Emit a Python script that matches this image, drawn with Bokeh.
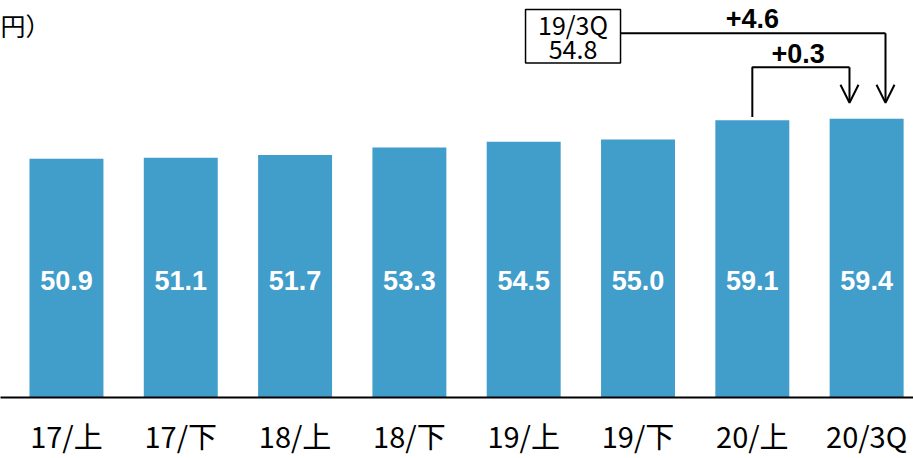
from bokeh.plotting import figure
from bokeh.models import (ColumnDataSource, Range1d, FixedTicker, Arrow, OpenHead,
                          Label)
from bokeh.embed import file_html
from bokeh.resources import INLINE
from bokeh.core.properties import value

# --- data -------------------------------------------------------------
CATEGORIES = ["17/上", "17/下", "18/上", "18/下", "19/上", "19/下", "20/上", "20/3Q"]
VALUES = [50.9, 51.1, 51.7, 53.3, 54.5, 55.0, 59.1, 59.4]
PREV_LABEL = "19/3Q"
PREV_VALUE = 54.8
UNIT = "円）"

BAR_COLOR = "#419DC9"
LABEL_Y = 25.0

xs = list(range(len(VALUES)))
src = ColumnDataSource(dict(
    x=xs,
    top=VALUES,
    label=[f"{v:.1f}" for v in VALUES],
    ly=[LABEL_Y] * len(VALUES),
))

p = figure(width=913, height=458, output_backend="svg", toolbar_location=None,
           x_range=Range1d(-0.577, 7.41), y_range=Range1d(0, 84.6),
           min_border_left=0, min_border_right=0, min_border_top=0,
           min_border_bottom=59)
p.outline_line_color = None
p.xgrid.visible = False
p.ygrid.visible = False
p.yaxis.visible = False
p.background_fill_color = "white"
p.border_fill_color = "white"

p.vbar(x="x", top="top", bottom=0, width=0.647, source=src,
       fill_color=BAR_COLOR, line_color=None)

p.text(x="x", y="ly", text="label", source=src, text_align="center",
       text_baseline="middle", text_color="white", text_font_style="bold",
       text_font=value("Liberation Sans"), text_font_size="27px")

ax = p.xaxis[0]
ax.ticker = FixedTicker(ticks=xs)
ax.major_label_overrides = {i: c for i, c in zip(xs, CATEGORIES)}
ax.major_tick_line_color = None
ax.minor_tick_line_color = None
ax.axis_line_color = "black"
ax.axis_line_width = 2
ax.major_label_text_font = "Noto Sans CJK JP"
ax.major_label_text_font_size = "29px"
ax.major_label_text_color = "black"
ax.major_label_standoff = 10

# unit label, top-left
p.add_layout(Label(x=0, y=79.3, x_units="screen", text=UNIT,
                   text_font="Noto Sans CJK JP", text_font_size="25px",
                   text_baseline="middle", text_align="left", text_color="black"))

# previous-period reference box
box_l, box_r = 4.016, 4.847
box_b, box_t = 71.3, 82.7
p.quad(left=[box_l], right=[box_r], bottom=[box_b], top=[box_t],
       fill_color="white", line_color="black", line_width=1.5)
box_cx = (box_l + box_r) / 2
p.text(x=[box_cx, box_cx], y=[79.5, 74.2], text=[PREV_LABEL, f"{PREV_VALUE:.1f}"],
       text_align="center", text_baseline="middle", text_color="black",
       text_font=value("Noto Sans CJK JP"), text_font_size="25px")

last = len(VALUES) - 1
tip_y = VALUES[last] + 3.4

# change versus previous year's same period
yoy = VALUES[last] - PREV_VALUE
line_y1 = 77.6
x_yoy = last + 0.165
p.line(x=[box_r, x_yoy], y=[line_y1, line_y1], line_color="black", line_width=2)
p.add_layout(Arrow(end=OpenHead(size=18, line_width=2, line_color="black"),
                   x_start=x_yoy, y_start=line_y1, x_end=x_yoy, y_end=tip_y,
                   line_color="black", line_width=2))
p.text(x=[6.0], y=[80.7], text=[f"+{yoy:.1f}"], text_align="center",
       text_baseline="middle", text_color="black", text_font_style="bold",
       text_font=value("Liberation Sans"), text_font_size="27px")

# change versus previous half
qoq = VALUES[last] - VALUES[last - 1]
line_y2 = 70.4
x_qoq = last - 0.15
p.line(x=[last - 1, last - 1, x_qoq], y=[VALUES[last - 1] + 0.7, line_y2, line_y2],
       line_color="black", line_width=2)
p.add_layout(Arrow(end=OpenHead(size=18, line_width=2, line_color="black"),
                   x_start=x_qoq, y_start=line_y2, x_end=x_qoq, y_end=tip_y,
                   line_color="black", line_width=2))
p.text(x=[6.4], y=[73.4], text=[f"+{qoq:.1f}"], text_align="center",
       text_baseline="middle", text_color="black", text_font_style="bold",
       text_font=value("Liberation Sans"), text_font_size="27px")

open("out.html", "w").write(file_html(p, INLINE))
